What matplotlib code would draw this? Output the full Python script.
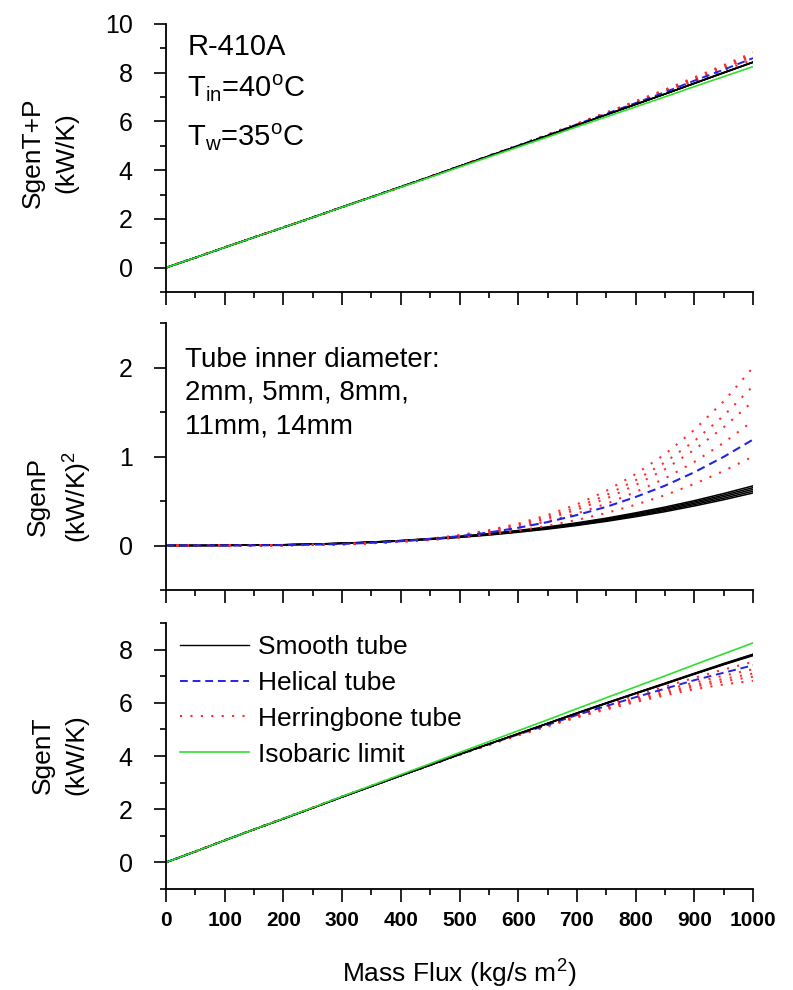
import numpy as np
import matplotlib
matplotlib.use("Agg")
import matplotlib.pyplot as plt
from matplotlib.ticker import MultipleLocator

plt.rcParams['font.family'] = ['Liberation Sans', 'DejaVu Sans']
plt.rcParams['mathtext.fontset'] = 'custom'
plt.rcParams['mathtext.rm'] = 'Liberation Sans'
plt.rcParams['mathtext.it'] = 'Liberation Sans'

# mass flux (kg/s m2)
G = [0, 50, 100, 150, 200, 250, 300, 350, 400, 450, 500,
     550, 600, 650, 700, 750, 800, 850, 900, 950, 1000]

# isobaric limit (SgenT, no pressure drop)
iso_T = [0, 0.41, 0.83, 1.24, 1.65, 2.06, 2.48, 2.89, 3.30, 3.71, 4.13,
         4.54, 4.95, 5.36, 5.78, 6.19, 6.60, 7.01, 7.43, 7.84, 8.25]

# SgenP, five inner diameters per tube type
smooth_P = [
    [0, 0.0002, 0.0013, 0.004, 0.009, 0.016, 0.026, 0.039, 0.056, 0.078, 0.103,
     0.133, 0.169, 0.209, 0.255, 0.307, 0.367, 0.432, 0.504, 0.584, 0.67],
    [0, 0.0002, 0.0013, 0.004, 0.008, 0.015, 0.025, 0.038, 0.055, 0.075, 0.100,
     0.129, 0.164, 0.203, 0.248, 0.298, 0.356, 0.419, 0.489, 0.566, 0.65],
    [0, 0.0002, 0.0013, 0.004, 0.008, 0.015, 0.024, 0.037, 0.053, 0.073, 0.097,
     0.125, 0.159, 0.197, 0.240, 0.289, 0.345, 0.406, 0.474, 0.549, 0.63],
    [0, 0.0002, 0.0012, 0.004, 0.008, 0.014, 0.024, 0.036, 0.051, 0.071, 0.094,
     0.121, 0.154, 0.190, 0.232, 0.280, 0.334, 0.393, 0.459, 0.531, 0.61],
    [0, 0.0002, 0.0012, 0.004, 0.008, 0.014, 0.023, 0.035, 0.050, 0.068, 0.091,
     0.117, 0.149, 0.184, 0.225, 0.271, 0.323, 0.380, 0.444, 0.514, 0.59],
]
helical_P = [
    [0, 0, 0.0004, 0.0015, 0.0043, 0.0093, 0.0176, 0.030, 0.048, 0.073, 0.105,
     0.146, 0.199, 0.263, 0.342, 0.434, 0.545, 0.672, 0.823, 0.996, 1.19],
]
herring_P = [
    [0, 0, 0.0002, 0.0008, 0.0027, 0.0068, 0.014, 0.027, 0.047, 0.076, 0.117,
     0.172, 0.246, 0.342, 0.462, 0.614, 0.802, 1.026, 1.30, 1.62, 2.0],
    [0, 0, 0.0002, 0.0009, 0.0029, 0.007, 0.0145, 0.027, 0.046, 0.073, 0.112,
     0.164, 0.232, 0.320, 0.430, 0.566, 0.733, 0.934, 1.174, 1.458, 1.79],
    [0, 0, 0.0002, 0.001, 0.003, 0.0073, 0.015, 0.027, 0.046, 0.072, 0.109,
     0.157, 0.220, 0.301, 0.403, 0.527, 0.679, 0.857, 1.076, 1.328, 1.62],
    [0, 0, 0.0003, 0.001, 0.0031, 0.0073, 0.014, 0.026, 0.043, 0.067, 0.100,
     0.144, 0.200, 0.272, 0.360, 0.469, 0.601, 0.753, 0.939, 1.154, 1.40],
    [0, 0, 0.0003, 0.0013, 0.0036, 0.0078, 0.015, 0.025, 0.041, 0.061, 0.088,
     0.123, 0.167, 0.221, 0.287, 0.365, 0.458, 0.565, 0.692, 0.837, 1.0],
]

# SgenT, same order as above
smooth_T = [
    [0, 0.41, 0.83, 1.24, 1.64, 2.05, 2.46, 2.86, 3.26, 3.65, 4.06,
     4.45, 4.83, 5.21, 5.60, 5.97, 6.34, 6.70, 7.07, 7.43, 7.77],
    [0, 0.41, 0.83, 1.24, 1.64, 2.05, 2.46, 2.86, 3.26, 3.66, 4.06,
     4.45, 4.83, 5.22, 5.60, 5.98, 6.35, 6.71, 7.08, 7.44, 7.79],
    [0, 0.41, 0.83, 1.24, 1.64, 2.05, 2.46, 2.86, 3.26, 3.66, 4.06,
     4.45, 4.84, 5.22, 5.61, 5.99, 6.36, 6.72, 7.09, 7.45, 7.80],
    [0, 0.41, 0.83, 1.24, 1.64, 2.05, 2.46, 2.86, 3.26, 3.66, 4.06,
     4.45, 4.84, 5.23, 5.62, 5.99, 6.36, 6.73, 7.10, 7.46, 7.82],
    [0, 0.41, 0.83, 1.24, 1.64, 2.05, 2.46, 2.86, 3.26, 3.66, 4.07,
     4.46, 4.84, 5.23, 5.62, 6.00, 6.37, 6.74, 7.11, 7.48, 7.83],
]
helical_T = [
    [0, 0.41, 0.83, 1.24, 1.65, 2.05, 2.47, 2.87, 3.27, 3.66, 4.06,
     4.44, 4.81, 5.17, 5.54, 5.88, 6.21, 6.53, 6.85, 7.13, 7.41],
]
herring_T = [
    [0, 0.41, 0.83, 1.24, 1.65, 2.05, 2.47, 2.87, 3.27, 3.66, 4.05,
     4.42, 4.78, 5.12, 5.45, 5.75, 6.03, 6.28, 6.51, 6.69, 6.83],
    [0, 0.41, 0.83, 1.24, 1.65, 2.05, 2.47, 2.87, 3.27, 3.66, 4.05,
     4.42, 4.79, 5.13, 5.47, 5.79, 6.08, 6.35, 6.60, 6.81, 6.98],
    [0, 0.41, 0.83, 1.24, 1.65, 2.05, 2.47, 2.87, 3.27, 3.66, 4.05,
     4.43, 4.79, 5.15, 5.49, 5.82, 6.12, 6.40, 6.67, 6.90, 7.10],
    [0, 0.41, 0.83, 1.24, 1.65, 2.05, 2.47, 2.87, 3.27, 3.66, 4.06,
     4.44, 4.81, 5.17, 5.52, 5.86, 6.17, 6.48, 6.76, 7.02, 7.26],
    [0, 0.41, 0.83, 1.24, 1.65, 2.05, 2.47, 2.87, 3.27, 3.67, 4.07,
     4.45, 4.83, 5.20, 5.58, 5.93, 6.28, 6.61, 6.94, 7.25, 7.54],
]

labels = ["Smooth tube", "Helical tube", "Herringbone tube", "Isobaric limit"]

c_black = 'black'
c_blue = '#2424e6'
c_red = '#ff2b2b'
c_green = '#2ee02e'
ls_blue = (0, (4, 2.5))
ls_red = (0, (1, 4))

W, H = 793, 990
fig = plt.figure(figsize=(W / 100, H / 100), dpi=100)
left, width = 166 / W, (753 - 166) / W
ax1 = fig.add_axes([left, 1 - 292 / H, width, 268 / H])
ax2 = fig.add_axes([left, 1 - 590 / H, width, 267 / H])
ax3 = fig.add_axes([left, 1 - 889 / H, width, 266 / H])

x = np.array(G)

# top: SgenT + SgenP
for t, p in zip(herring_T, herring_P):
    ax1.plot(x, np.array(t) + np.array(p), color=c_red, lw=1.5, ls=ls_red)
for t, p in zip(helical_T, helical_P):
    ax1.plot(x, np.array(t) + np.array(p), color=c_blue, lw=1.4, ls=ls_blue)
for t, p in zip(smooth_T, smooth_P):
    ax1.plot(x, np.array(t) + np.array(p), color=c_black, lw=1.0)
ax1.plot(x, iso_T, color=c_green, lw=1.2)

# middle: SgenP
for p in smooth_P:
    ax2.plot(x, p, color=c_black, lw=1.1)
for p in herring_P:
    ax2.plot(x, p, color=c_red, lw=1.5, ls=ls_red)
for p in helical_P:
    ax2.plot(x, p, color=c_blue, lw=1.5, ls=ls_blue)

# bottom: SgenT
for t in herring_T:
    ax3.plot(x, t, color=c_red, lw=1.5, ls=ls_red)
for t in helical_T:
    ax3.plot(x, t, color=c_blue, lw=1.4, ls=ls_blue)
for t in smooth_T:
    ax3.plot(x, t, color=c_black, lw=1.0)
ax3.plot(x, iso_T, color=c_green, lw=1.2)

ax1.set_ylim(-1, 10)
ax1.yaxis.set_major_locator(MultipleLocator(2))
ax1.yaxis.set_minor_locator(MultipleLocator(1))
ax2.set_ylim(-0.5, 2.5)
ax2.yaxis.set_major_locator(MultipleLocator(1))
ax2.yaxis.set_minor_locator(MultipleLocator(0.5))
ax3.set_ylim(-1, 9)
ax3.yaxis.set_major_locator(MultipleLocator(2))
ax3.yaxis.set_minor_locator(MultipleLocator(1))

for ax in (ax1, ax2, ax3):
    ax.set_xlim(0, 1000)
    ax.xaxis.set_major_locator(MultipleLocator(100))
    ax.xaxis.set_minor_locator(MultipleLocator(50))
    ax.spines['top'].set_visible(False)
    ax.spines['right'].set_visible(False)
    ax.spines['left'].set_linewidth(1.3)
    ax.spines['bottom'].set_linewidth(1.3)
    ax.tick_params(which='major', direction='out', length=9, width=1.2)
    ax.tick_params(which='minor', direction='out', length=4.5, width=1.2)
    ax.tick_params(axis='y', labelsize=18, pad=15)
    ax.patch.set_alpha(0)

ax1.tick_params(axis='x', labelbottom=False)
ax2.tick_params(axis='x', labelbottom=False)
ax3.tick_params(axis='x', labelsize=15, pad=7)
for lab in ax3.get_xticklabels():
    lab.set_fontweight('bold')

# y labels placed by figure pixel position of their centre
def ylab(txt, px, py):
    fig.text(px / W, 1 - py / H, txt, rotation=90, ha='center', va='center',
             fontsize=19, linespacing=1.5, multialignment='center')

ylab("SgenT+P\n(kW/K)", 50, 153)
ylab("SgenP\n(kW/K)$^2$", 60, 497)
ylab("SgenT\n(kW/K)", 60, 755)
ax3.set_xlabel("Mass Flux (kg/s m$^2$)", fontsize=19, labelpad=20)

ax1.text(0.036, 0.884, "R-410A", transform=ax1.transAxes, fontsize=21, va='baseline')
ax1.text(0.036, 0.728, "T$_{\\rm in}$=40$^{\\rm o}$C", transform=ax1.transAxes, fontsize=21, va='baseline')
ax1.text(0.036, 0.545, "T$_{\\rm w}$=35$^{\\rm o}$C", transform=ax1.transAxes, fontsize=21, va='baseline')

ax2.text(0.032, 0.835, "Tube inner diameter:", transform=ax2.transAxes, fontsize=20, va='baseline')
ax2.text(0.032, 0.712, "2mm, 5mm, 8mm,", transform=ax2.transAxes, fontsize=20, va='baseline')
ax2.text(0.032, 0.585, "11mm, 14mm", transform=ax2.transAxes, fontsize=20, va='baseline')

handles = [
    plt.Line2D([], [], color=c_black, lw=1.0),
    plt.Line2D([], [], color=c_blue, lw=1.4, ls=ls_blue),
    plt.Line2D([], [], color=c_red, lw=1.5, ls=ls_red),
    plt.Line2D([], [], color=c_green, lw=1.2),
]
ax3.legend(handles, labels, loc='upper left', bbox_to_anchor=(0.024, 0.955),
           frameon=False, fontsize=19, borderpad=0, borderaxespad=0,
           handlelength=2.6, handletextpad=0.35, labelspacing=0.45)

fig.savefig("out.png", dpi=100)
